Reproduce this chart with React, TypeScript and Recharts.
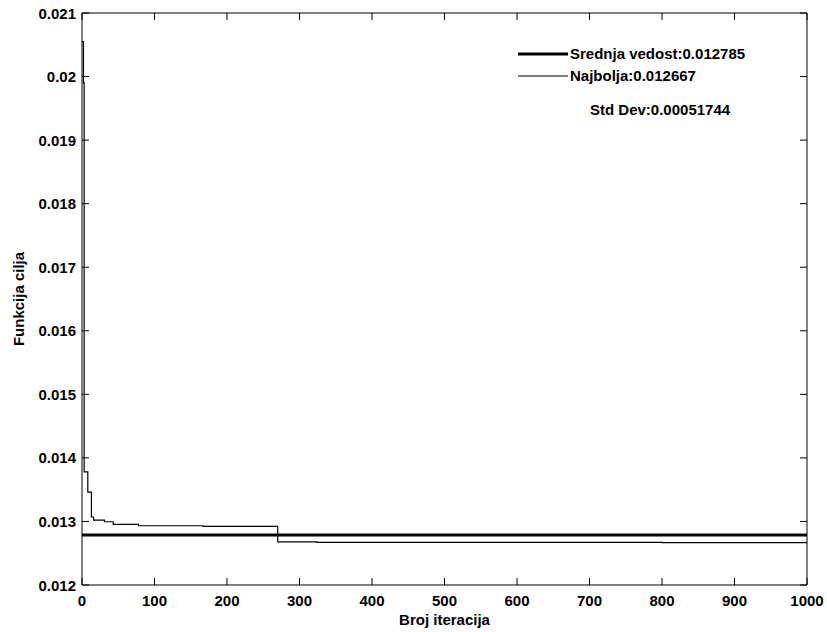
import { LineChart, Line, XAxis, YAxis, Legend } from 'recharts'

const FONT = '"Liberation Sans", Arial, sans-serif'

// best-so-far objective per iteration (step changes only)
const bestIter = [0, 2, 3, 8, 13, 16, 31, 43, 78, 167, 270, 324, 800, 1000]
const bestValue = [
  0.02055, 0.0199, 0.01378, 0.01346, 0.01307, 0.01302, 0.012995, 0.012954, 0.012932, 0.012923, 0.01268,
  0.012672, 0.012667, 0.012667,
]

// mean over runs (flat)
const meanIter = [0, 1000]
const meanValue = [0.012785, 0.012785]

const xTicks = [0, 100, 200, 300, 400, 500, 600, 700, 800, 900, 1000]
const yTicks = [0.012, 0.013, 0.014, 0.015, 0.016, 0.017, 0.018, 0.019, 0.02, 0.021]

const legendRows = [
  { label: 'Srednja vedost:0.012785', width: 3 },
  { label: 'Najbolja:0.012667', width: 1.2 },
]
const stdDevText = 'Std Dev:0.00051744'

const bestData = bestIter.map((it, i) => ({ it, v: bestValue[i] }))
const meanData = meanIter.map((it, i) => ({ it, v: meanValue[i] }))

const fmtY = (v: number) => String(Number(v.toFixed(3)))

const textStyle = { fontFamily: FONT, fontWeight: 'bold' as const, fontSize: 15, fill: '#000' }

const BottomTick = (props: any) => {
  const { x, y, payload } = props
  return (
    <g>
      <line x1={x} x2={x} y1={y} y2={y - 7} stroke="#000" />
      <text x={x} y={y + 15} textAnchor="middle" dominantBaseline="central" {...textStyle}>
        {payload.value}
      </text>
    </g>
  )
}

const TopTick = (props: any) => {
  const { x, y } = props
  return <line x1={x} x2={x} y1={y} y2={y + 7} stroke="#000" />
}

const LeftTick = (props: any) => {
  const { x, y, payload } = props
  return (
    <g>
      <line x1={x} x2={x + 7} y1={y} y2={y} stroke="#000" />
      <text x={x - 6} y={y} textAnchor="end" dominantBaseline="central" {...textStyle}>
        {fmtY(payload.value)}
      </text>
    </g>
  )
}

const RightTick = (props: any) => {
  const { x, y } = props
  return <line x1={x} x2={x - 7} y1={y} y2={y} stroke="#000" />
}

const LegendBox = () => (
  <div style={{ fontFamily: FONT, fontWeight: 'bold', fontSize: 15, color: '#000', lineHeight: '20px' }}>
    {legendRows.map((r) => (
      <div key={r.label} style={{ display: 'flex', alignItems: 'center', height: 22 }}>
        <svg width={52} height={22} style={{ display: 'block' }}>
          <line x1={0} x2={50} y1={11} y2={11} stroke="#000" strokeWidth={r.width} />
        </svg>
        <span style={{ whiteSpace: 'nowrap' }}>{r.label}</span>
      </div>
    ))}
    <div style={{ marginTop: 13, paddingLeft: 72, whiteSpace: 'nowrap' }}>{stdDevText}</div>
  </div>
)

export default function App() {
  return (
    <div style={{ position: 'absolute', left: 0, top: 0, background: '#fff' }}>
      <LineChart width={827} height={632} margin={{ top: 12, right: 19, left: 0, bottom: 0 }}>
        <XAxis
          xAxisId="b"
          dataKey="it"
          type="number"
          domain={[0, 1000]}
          ticks={xTicks}
          orientation="bottom"
          height={47}
          tickSize={0}
          tickMargin={0}
          stroke="#000"
          tick={BottomTick}
          interval={0}
          allowDataOverflow
          label={{
            content: (p: any) => (
              <text
                x={p.viewBox.x + p.viewBox.width / 2}
                y={p.viewBox.y + 34}
                textAnchor="middle"
                dominantBaseline="central"
                {...textStyle}
              >
                Broj iteracija
              </text>
            ),
          }}
        />
        <XAxis
          xAxisId="t"
          dataKey="it"
          type="number"
          domain={[0, 1000]}
          ticks={xTicks}
          orientation="top"
          height={1}
          tickSize={0}
          tickMargin={0}
          stroke="#000"
          tick={TopTick}
          interval={0}
          allowDataOverflow
        />
        <YAxis
          yAxisId="l"
          type="number"
          domain={[0.012, 0.021]}
          ticks={yTicks}
          orientation="left"
          width={82}
          tickSize={0}
          tickMargin={0}
          stroke="#000"
          tick={LeftTick}
          interval={0}
          allowDataOverflow
          label={{
            content: (p: any) => (
              <text
                x={18}
                y={p.viewBox.y + p.viewBox.height / 2}
                transform={`rotate(-90, 18, ${p.viewBox.y + p.viewBox.height / 2})`}
                textAnchor="middle"
                dominantBaseline="central"
                {...textStyle}
              >
                Funkcija cilja
              </text>
            ),
          }}
        />
        <YAxis
          yAxisId="r"
          type="number"
          domain={[0.012, 0.021]}
          ticks={yTicks}
          orientation="right"
          width={1}
          tickSize={0}
          tickMargin={0}
          stroke="#000"
          tick={RightTick}
          interval={0}
          allowDataOverflow
        />
        <Legend
          layout="horizontal"
          verticalAlign="middle"
          align="center"
          content={LegendBox}
          wrapperStyle={{ left: 518, top: 43, width: 260, height: 120 }}
        />
        <Line
          xAxisId="b"
          yAxisId="l"
          data={meanData}
          dataKey="v"
          name="Srednja vedost"
          type="linear"
          stroke="#000"
          strokeWidth={3}
          dot={false}
          isAnimationActive={false}
        />
        <Line
          xAxisId="b"
          yAxisId="l"
          data={bestData}
          dataKey="v"
          name="Najbolja"
          type="stepAfter"
          stroke="#000"
          strokeWidth={1.2}
          dot={false}
          isAnimationActive={false}
        />
      </LineChart>
    </div>
  )
}
